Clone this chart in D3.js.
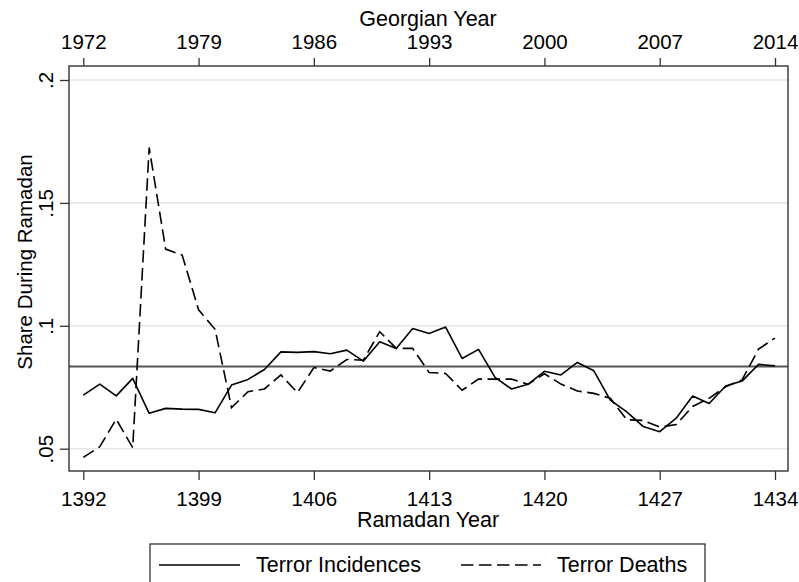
<!DOCTYPE html>
<html>
<head>
<meta charset="utf-8">
<script src="https://cdn.jsdelivr.net/npm/d3@7"></script>
<style>
  html, body { margin: 0; padding: 0; background: #fff; }
  svg { display: block; font-family: "Liberation Sans", Arial, sans-serif; }
</style>
</head>
<body>
<svg id="chart" width="799" height="582"></svg>
<script>
// ---- data ----
const ramadanYears = [1392,1393,1394,1395,1396,1397,1398,1399,1400,1401,1402,1403,1404,1405,1406,1407,1408,1409,1410,1411,1412,1413,1414,1415,1416,1417,1418,1419,1420,1421,1422,1423,1424,1425,1426,1427,1428,1429,1430,1431,1432,1433,1434];
const terrorIncidences = [0.0718,0.0763,0.0715,0.0786,0.0644,0.0664,0.0661,0.0660,0.0646,0.0759,0.0782,0.0822,0.0894,0.0892,0.0895,0.0886,0.0901,0.0856,0.0935,0.0908,0.0989,0.0969,0.0995,0.0867,0.0904,0.0790,0.0743,0.0762,0.0815,0.0800,0.0851,0.0817,0.0698,0.0650,0.0590,0.0569,0.0624,0.0714,0.0684,0.0755,0.0775,0.0843,0.0837];
const terrorDeaths = [0.0465,0.0508,0.0620,0.0504,0.1725,0.1312,0.1288,0.1065,0.0986,0.0667,0.0732,0.0743,0.0800,0.0728,0.0830,0.0816,0.0863,0.0860,0.0976,0.0908,0.0908,0.0810,0.0806,0.0738,0.0783,0.0783,0.0783,0.0762,0.0805,0.0763,0.0735,0.0725,0.0705,0.0618,0.0615,0.0588,0.0598,0.0672,0.0705,0.0752,0.0780,0.0905,0.0950];
const referenceShare = 0.0834;
const ramadanTicks = [1392,1399,1406,1413,1420,1427,1434];
const georgianTicks = [1972,1979,1986,1993,2000,2007,2014];
const yTicks = [0.05,0.1,0.15,0.2];
const yTickLabels = [".05",".1",".15",".2"];
const seriesNames = ["Terror Incidences","Terror Deaths"];

// ---- layout ----
const frame = {left: 69, right: 788, top: 66, bottom: 471};
const FS = 20.5;      // tick labels
const FT = 21.5;      // titles & legend
const DASH = "12.5,5.5";
const svg = d3.select("#chart");

const x = d3.scaleLinear().domain([1392, 1434]).range([83.3, 775]);
const xg = d3.scaleLinear().domain([1972, 2014]).range([83.3, 775]);
const y = d3.scaleLinear().domain([0.05, 0.2]).range([448.7, 80]);

// gridlines
svg.append("g").selectAll("line").data(yTicks).join("line")
  .attr("x1", frame.left).attr("x2", frame.right)
  .attr("y1", d => y(d)).attr("y2", d => y(d))
  .attr("stroke", "#e6e6e6").attr("stroke-width", 1.6);

// reference line
svg.append("line")
  .attr("x1", frame.left).attr("x2", frame.right)
  .attr("y1", y(referenceShare)).attr("y2", y(referenceShare))
  .attr("stroke", "#555").attr("stroke-width", 2);

// series
const line = d3.line().x((d, i) => x(ramadanYears[i])).y(d => y(d));
svg.append("path").datum(terrorIncidences)
  .attr("d", line).attr("fill", "none")
  .attr("stroke", "#000").attr("stroke-width", 1.6).attr("stroke-linejoin", "round");
svg.append("path").datum(terrorDeaths)
  .attr("d", line).attr("fill", "none")
  .attr("stroke", "#000").attr("stroke-width", 1.6)
  .attr("stroke-dasharray", DASH);

// frame
svg.append("rect")
  .attr("x", frame.left).attr("y", frame.top)
  .attr("width", frame.right - frame.left).attr("height", frame.bottom - frame.top)
  .attr("fill", "none").attr("stroke", "#333").attr("stroke-width", 1.4);

// axes
const styleAxis = g => {
  g.select(".domain").remove();
  g.selectAll(".tick line").attr("stroke", "#333").attr("stroke-width", 1.3);
  g.selectAll(".tick text").attr("fill", "#000").style("font-size", FS + "px")
   .style("font-family", '"Liberation Sans", Arial, sans-serif');
};

const bottomAxis = svg.append("g").attr("transform", `translate(0,${frame.bottom})`)
  .call(d3.axisBottom(x).tickValues(ramadanTicks).tickFormat(d3.format("d")).tickSize(9));
styleAxis(bottomAxis);
bottomAxis.selectAll(".tick text").attr("y", 35).attr("dy", 0);

const topAxis = svg.append("g").attr("transform", `translate(0,${frame.top})`)
  .call(d3.axisTop(xg).tickValues(georgianTicks).tickFormat(d3.format("d")).tickSize(8));
styleAxis(topAxis);
topAxis.selectAll(".tick text").attr("y", -17.5).attr("dy", 0);

const leftAxis = svg.append("g").attr("transform", `translate(${frame.left},0)`)
  .call(d3.axisLeft(y).tickValues(yTicks).tickFormat((d, i) => yTickLabels[i]).tickSize(9));
styleAxis(leftAxis);
leftAxis.selectAll(".tick text")
  .attr("transform", "rotate(-90)")
  .attr("x", 0).attr("y", -16).attr("dy", 0)
  .attr("text-anchor", "middle");

// titles
svg.append("text").attr("x", 428).attr("y", 25.5).attr("text-anchor", "middle")
  .style("font-size", FT + "px").text("Georgian Year");
svg.append("text").attr("x", 428).attr("y", 527).attr("text-anchor", "middle")
  .style("font-size", FT + "px").text("Ramadan Year");
svg.append("text").attr("transform", "translate(32,262) rotate(-90)")
  .attr("text-anchor", "middle").style("font-size", FS + "px").text("Share During Ramadan");

// legend
const lg = svg.append("g");
lg.append("rect").attr("x", 150).attr("y", 544).attr("width", 555).attr("height", 60)
  .attr("fill", "#fff").attr("stroke", "#333").attr("stroke-width", 1.3);
const legendItems = [
  {name: seriesNames[0], x0: 159, x1: 240, tx: 256, dash: null},
  {name: seriesNames[1], x0: 461, x1: 541, tx: 557, dash: DASH}
];
legendItems.forEach(it => {
  lg.append("line").attr("x1", it.x0).attr("x2", it.x1).attr("y1", 565).attr("y2", 565)
    .attr("stroke", "#000").attr("stroke-width", 1.6)
    .attr("stroke-dasharray", it.dash);
  lg.append("text").attr("x", it.tx).attr("y", 572).style("font-size", FT + "px").text(it.name);
});
</script>
</body>
</html>
